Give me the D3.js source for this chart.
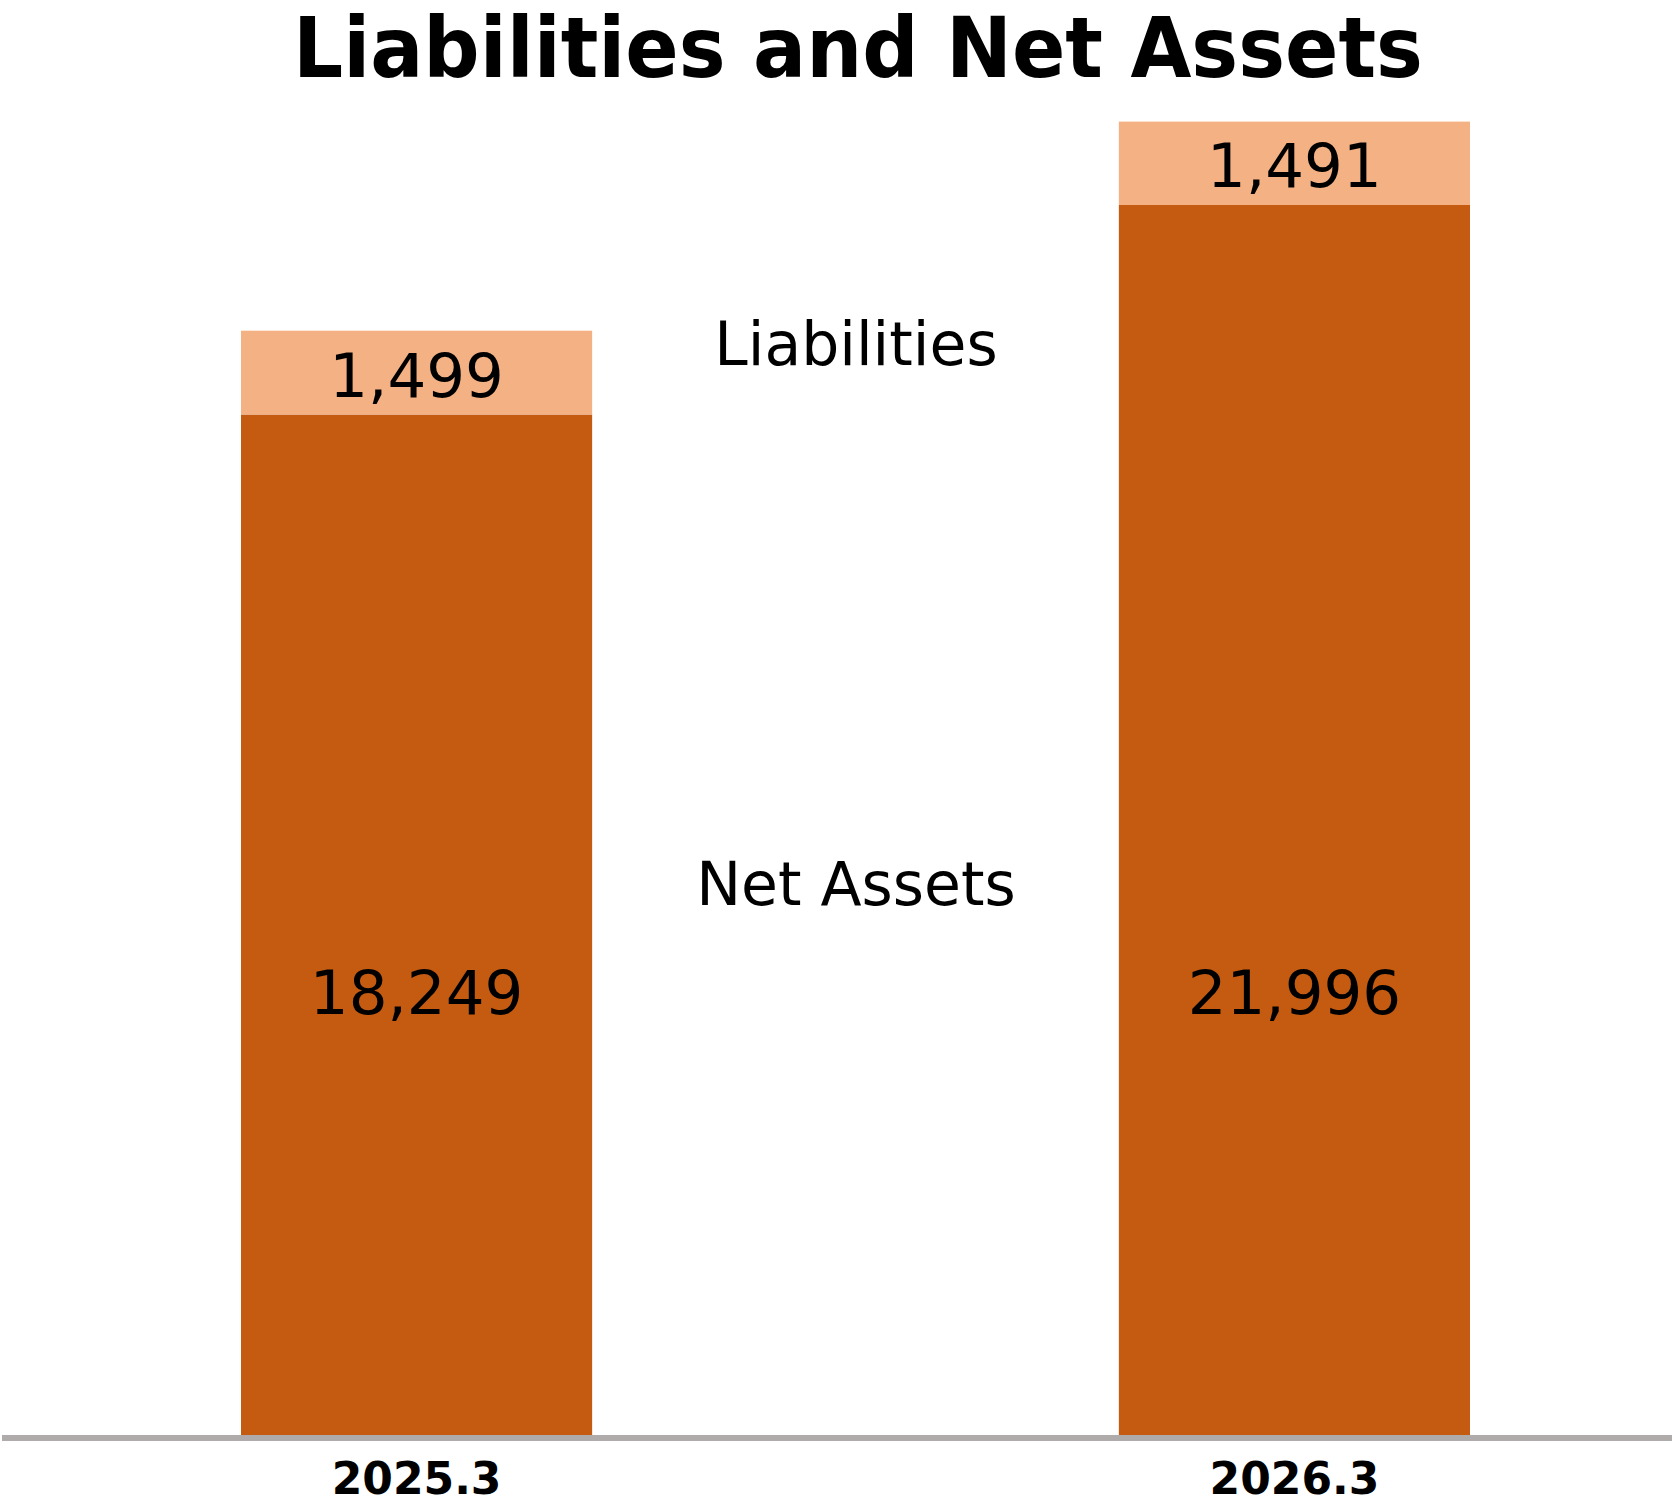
<!DOCTYPE html>
<html>
<head>
<meta charset="utf-8">
<script src="https://cdn.jsdelivr.net/npm/d3@7"></script>
<style>
  html, body { margin: 0; padding: 0; background: #ffffff; }
  svg { display: block; }
</style>
</head>
<body>
<div id="chart"></div>
<script>
// Balance sheet composition, two fiscal year-ends
const categories = ["2025.3", "2026.3"];
const netAssets = [18249, 21996];
const liabilities = [1499, 1491];
const seriesNames = ["Liabilities", "Net Assets"];
const titleText = "Liabilities and Net Assets";

const W = 1672, H = 1506;
const baseY = 1435;
const colors = { net: "#C55A11", liab: "#F4B183", axis: "#AFABAB" };
const font = "'DejaVu Sans', Verdana, sans-serif";

const svg = d3.select("#chart").append("svg")
  .attr("width", W).attr("height", H)
  .attr("viewBox", `0 0 ${W} ${H}`);

const x = d3.scaleBand()
  .domain(categories)
  .range([241, 1470])
  .paddingInner(0.6)
  .paddingOuter(0);

const y = d3.scaleLinear()
  .domain([0, 25000])
  .range([baseY, baseY - 1398]);

const rows = categories.map((c, i) => ({
  cat: c,
  net: netAssets[i],
  liab: liabilities[i]
}));

const stack = d3.stack().keys(["net", "liab"])(rows);

const g = svg.append("g");

stack.forEach(layer => {
  g.append("g")
    .attr("fill", colors[layer.key])
    .selectAll("rect")
    .data(layer)
    .join("rect")
    .attr("x", d => x(d.data.cat))
    .attr("width", x.bandwidth())
    .attr("y", d => y(d[1]))
    .attr("height", d => y(d[0]) - y(d[1]));
});

// Baseline
svg.append("line")
  .attr("x1", 2).attr("x2", W)
  .attr("y1", baseY + 3).attr("y2", baseY + 3)
  .attr("stroke", colors.axis)
  .attr("stroke-width", 6);

// Category axis labels
const axis = d3.axisBottom(x).tickSize(0).tickPadding(0);
const axisG = svg.append("g")
  .attr("transform", `translate(0,${baseY})`)
  .call(axis);
axisG.select(".domain").remove();
axisG.selectAll("text")
  .attr("y", 59)
  .attr("dy", 0)
  .attr("font-family", font)
  .attr("font-weight", "bold")
  .attr("font-size", 44)
  .attr("fill", "#000");

const fmt = d3.format(",");

// Liabilities values, centred in the upper segment
g.append("g").selectAll("text")
  .data(stack[1])
  .join("text")
  .attr("x", d => x(d.data.cat) + x.bandwidth() / 2)
  .attr("y", d => (y(d[0]) + y(d[1])) / 2 + 24)
  .attr("text-anchor", "middle")
  .attr("font-family", font)
  .attr("font-size", 61)
  .attr("fill", "#000")
  .text(d => fmt(d.data.liab));

// Net assets values
g.append("g").selectAll("text")
  .data(stack[0])
  .join("text")
  .attr("x", d => x(d.data.cat) + x.bandwidth() / 2)
  .attr("y", 1014)
  .attr("text-anchor", "middle")
  .attr("font-family", font)
  .attr("font-size", 61)
  .attr("fill", "#000")
  .text(d => fmt(d.data.net));

// Series names between the bars
const midX = 856;
svg.append("text")
  .attr("x", midX).attr("y", 365)
  .attr("text-anchor", "middle")
  .attr("font-family", font)
  .attr("font-size", 60)
  .text(seriesNames[0]);
svg.append("text")
  .attr("x", midX).attr("y", 905)
  .attr("text-anchor", "middle")
  .attr("font-family", font)
  .attr("font-size", 60)
  .text(seriesNames[1]);

// Title
svg.append("text")
  .attr("x", 858).attr("y", 77)
  .attr("text-anchor", "middle")
  .attr("font-family", font)
  .attr("font-weight", "bold")
  .attr("font-size", 84)
  .attr("textLength", 1130)
  .attr("lengthAdjust", "spacingAndGlyphs")
  .text(titleText);
</script>
</body>
</html>
